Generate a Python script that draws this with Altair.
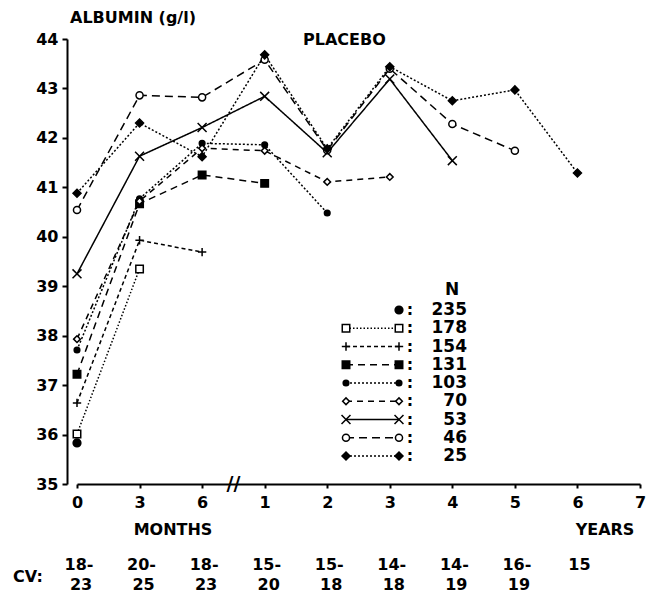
import altair as alt
import pandas as pd

# ---------------- data ----------------
x_labels = ["0", "3", "6", "1", "2", "3", "4", "5", "6", "7"]
cv_top = ["18-", "20-", "18-", "15-", "15-", "14-", "14-", "16-", "15"]
cv_bottom = ["23", "25", "23", "20", "18", "18", "19", "19", ""]
n_values = [235, 178, 154, 131, 103, 70, 53, 46, 25]

s235 = [35.83]
s178 = [36.01, 39.35]
s154 = [36.64, 39.93, 39.69]
s131 = [37.22, 40.67, 41.25, 41.08]
s103 = [37.71, 40.77, 41.89, 41.86, 40.48]
s70 = [37.93, 40.72, 41.79, 41.74, 41.11, 41.21]
s53 = [39.25, 41.63, 42.21, 42.84, 41.70, 43.19, 41.54]
s46 = [40.54, 42.86, 42.82, 43.58, 41.75, 43.40, 42.28, 41.74]
s25 = [40.88, 42.30, 41.62, 43.68, 41.78, 43.44, 42.75, 42.97, 41.29]
series_values = [s235, s178, s154, s131, s103, s70, s53, s46, s25]

# ---------------- styles (shape, size, fill, dash) ----------------
PLUS = "M-1,0L1,0M0,-1L0,1"
XSHAPE = "M-1,-1L1,1M-1,1L1,-1"
styles = {
    235: ("circle", 60, "black", [1, 0]),
    178: ("square", 56, "white", [1.5, 2]),
    154: (PLUS, 70, "none", [4, 3]),
    131: ("square", 56, "black", [7, 5]),
    103: ("circle", 32, "black", [2, 2]),
    70: ("diamond", 45, "white", [6, 5]),
    53: (XSHAPE, 80, "none", [1, 0]),
    46: ("circle", 50, "white", [8, 5]),
    25: ("diamond", 64, "black", [2, 2]),
}

FONT = "DejaVu Sans"

rows = []
for n, vals in zip(n_values, series_values):
    shp, sz, fl, dash = styles[n]
    for i, v in enumerate(vals):
        rows.append({"n": n, "idx": i, "value": v, "shape": shp, "size": sz,
                     "fill": fl, "dash": dash})
df = pd.DataFrame(rows)

# legend table (layout only)
LEG_X1, LEG_X2, LEG_Y0, LEG_DY = 269, 322, 271, 18.25
leg_pts, leg_lines, leg_txt = [], [], []
for k, n in enumerate(n_values):
    shp, sz, fl, dash = styles[n]
    py = LEG_Y0 + LEG_DY * k
    xs = [LEG_X2] if n == 235 else [LEG_X1, LEG_X2]
    for px in xs:
        leg_pts.append({"px": px, "py": py, "shape": shp, "size": sz, "fill": fl})
    if n != 235:
        leg_lines.append({"x1": LEG_X1, "x2": LEG_X2, "py": py, "dash": dash})
    leg_txt.append({"py": py, "label": str(n)})
df_lp = pd.DataFrame(leg_pts)
df_ll = pd.DataFrame(leg_lines)
df_lt = pd.DataFrame(leg_txt)

label_expr = "[" + ",".join(f"'{l}'" for l in x_labels) + "][datum.value]"

xenc = alt.X("idx:Q", scale=alt.Scale(domain=[0, 9], nice=False, zero=False),
             axis=alt.Axis(values=list(range(10)), labelExpr=label_expr, title=None,
                           grid=False, tickSize=4, tickWidth=2, domainWidth=2,
                           labelFont=FONT, labelFontSize=16, labelFontWeight="bold",
                           labelPadding=6, labelColor="black", domainColor="black",
                           tickColor="black", labelFlush=False))
yenc = alt.Y("value:Q", scale=alt.Scale(domain=[35, 44], nice=False, zero=False),
             axis=alt.Axis(values=list(range(35, 45)), title=None, grid=False, offset=10,
                           tickSize=5, tickWidth=2, domainWidth=2,
                           labelFont=FONT, labelFontSize=16, labelFontWeight="bold",
                           labelPadding=4, labelColor="black", domainColor="black",
                           tickColor="black"))

base = alt.Chart(df)
lines = base.mark_line(color="black", strokeWidth=1.5).encode(
    x=xenc, y=yenc, detail="n:N",
    strokeDash=alt.StrokeDash("dash", scale=None),
)
points = base.mark_point(filled=True, opacity=1, stroke="black", strokeWidth=1.5).encode(
    x="idx:Q", y="value:Q",
    shape=alt.Shape("shape:N", scale=None),
    size=alt.Size("size:Q", scale=None),
    fill=alt.Fill("fill:N", scale=None),
)

leg_line_layer = alt.Chart(df_ll).mark_rule(color="black", strokeWidth=1.5).encode(
    x=alt.X("x1:Q", scale=None, axis=None), x2="x2:Q",
    y=alt.Y("py:Q", scale=None, axis=None),
    strokeDash=alt.StrokeDash("dash", scale=None),
)
leg_pt_layer = alt.Chart(df_lp).mark_point(filled=True, opacity=1, stroke="black",
                                           strokeWidth=1.5).encode(
    x=alt.X("px:Q", scale=None, axis=None),
    y=alt.Y("py:Q", scale=None, axis=None),
    shape=alt.Shape("shape:N", scale=None),
    size=alt.Size("size:Q", scale=None),
    fill=alt.Fill("fill:N", scale=None),
)
leg_colon = alt.Chart(df_lt).mark_text(font=FONT, fontSize=16, fontWeight="bold",
                                       align="center", baseline="middle",
                                       color="black", text=":").encode(
    x=alt.value(333), y=alt.Y("py:Q", scale=None, axis=None))
leg_num = alt.Chart(df_lt).mark_text(font=FONT, fontSize=17, fontWeight="bold",
                                     align="right", baseline="middle",
                                     color="black").encode(
    x=alt.value(390), y=alt.Y("py:Q", scale=None, axis=None), text="label:N")


def label(txt, x, y, align="left", size=16):
    return alt.Chart(pd.DataFrame({"t": [txt]})).mark_text(
        font=FONT, fontSize=size, fontWeight="bold", align=align,
        baseline="middle", color="black").encode(
        x=alt.value(x), y=alt.value(y), text="t:N")


ann = [
    label("ALBUMIN (g/l)", -7, -21, size=16),
    label("PLACEBO", 226, 1),
    label("N", 375, 251, "center", 17),
    label("MONTHS", 96, 491, "center"),
    label("YEARS", 528, 491, "center"),
    label("CV:", -64, 538),
]

df_cv = pd.DataFrame({"idx": list(range(len(cv_top))), "top": cv_top,
                      "bottom": cv_bottom})
cv_t = alt.Chart(df_cv).mark_text(font=FONT, fontSize=16, fontWeight="bold",
                                  align="center", baseline="middle", color="black",
                                  dx=2).encode(
    x="idx:Q", y=alt.value(526), text="top:N")
cv_b = alt.Chart(df_cv).mark_text(font=FONT, fontSize=16, fontWeight="bold",
                                  align="center", baseline="middle", color="black",
                                  dx=4).encode(
    x="idx:Q", y=alt.value(546), text="bottom:N")

brk = alt.Chart(pd.DataFrame({"t": ["//"], "idx": [2.5], "value": [35]})).mark_text(
    font=FONT, fontSize=19, fontWeight="bold", align="center", baseline="middle",
    color="black").encode(x="idx:Q", y="value:Q", text="t:N")

chart = alt.layer(lines, points, brk, leg_line_layer, leg_pt_layer, leg_colon,
                  leg_num, cv_t, cv_b, *ann).properties(
    width=563, height=445,
    background="white",
    autosize=alt.AutoSizeParams(type="none"),
    padding={"left": 69, "top": 31, "right": 10, "bottom": 112},
).configure_view(strokeWidth=0, stroke="transparent")

chart.save("out.html", embed_options={"renderer": "svg", "actions": False})
